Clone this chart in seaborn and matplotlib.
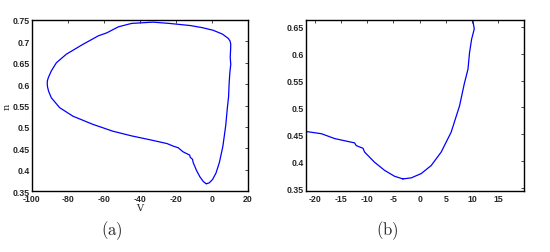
import pandas as pd
import seaborn as sns
import matplotlib
matplotlib.use("Agg")
import matplotlib.pyplot as plt

# limit cycle in the (V, n) plane
V = [-3.2, -1.6, 0.3, 2.2, 4.1, 6.0, 7.6, 8.5, 9.2, 9.5, 9.9, 10.4, 10.1, 10.3,
     10.4, 10.0, 9.0, 5.8, 0.6, -5.3, -12.0, -23.7, -32.8, -44.7, -52.0,
     -58.4, -63.1, -71.7, -80.9, -86.4, -89.2, -90.8, -91.4, -91.5, -91.3,
     -90.7, -89.2, -84.6, -77.2, -66.2, -55.1, -44.7, -34.6, -25.0, -21.5,
     -18.7, -16.2, -14.3, -12.4, -12.1, -10.8, -10.5, -8.6, -6.7, -4.8, -3.2]
n = [0.367, 0.369, 0.377, 0.392, 0.417, 0.454, 0.503, 0.544, 0.571, 0.602,
     0.627, 0.646, 0.663, 0.680, 0.693, 0.701, 0.707, 0.717, 0.726, 0.732,
     0.737, 0.742, 0.745, 0.742, 0.734, 0.720, 0.713, 0.693, 0.670, 0.650,
     0.631, 0.616, 0.608, 0.601, 0.593, 0.583, 0.568, 0.545, 0.525, 0.506,
     0.490, 0.479, 0.470, 0.461, 0.455, 0.451, 0.442, 0.438, 0.434, 0.429,
     0.424, 0.417, 0.398, 0.383, 0.372, 0.367]

xticks_a = [-100, -80, -60, -40, -20, 0, 20]
yticks_a = [0.35, 0.4, 0.45, 0.5, 0.55, 0.6, 0.65, 0.7, 0.75]
xticks_b = [-20, -15, -10, -5, 0, 5, 10, 15]
yticks_b = [0.35, 0.4, 0.45, 0.5, 0.55, 0.6, 0.65]

df = pd.DataFrame({"V": V, "n": n})

sns.set_style("white")
plt.rcParams["mathtext.fontset"] = "cm"

fig = plt.figure(figsize=(5.5, 2.53), dpi=100)
ax1 = fig.add_axes([0.058, 0.241, 0.393, 0.676])
ax2 = fig.add_axes([0.556, 0.241, 0.396, 0.676])

for ax in (ax1, ax2):
    sns.lineplot(data=df, x="V", y="n", sort=False, estimator=None,
                 color="#0000ff", lw=0.9, ax=ax)
    ax.tick_params(direction="in", top=True, right=True, length=2.5,
                   width=0.6, pad=1.5)
    ax.tick_params(axis="x", pad=2.5)
    for s in ax.spines.values():
        s.set_linewidth(1.0)
        s.set_color("black")
    ax.set_xlabel("")
    ax.set_ylabel("")


def label_ticks(ax, xt, yt):
    ax.set_xticks(xt)
    ax.set_xticklabels([f"{v:g}" for v in xt], fontsize=6.3, fontweight="bold",
                       family="Liberation Sans")
    ax.set_yticks(yt)
    ax.set_yticklabels([f"{v:g}" for v in yt], fontsize=6.3, fontweight="bold",
                       family="Liberation Sans")


ax1.set_xlim(-100, 20)
ax1.set_ylim(0.35, 0.75)
label_ticks(ax1, xticks_a, yticks_a)
ax1.set_xlabel("V", family="DejaVu Serif", fontsize=7, labelpad=0)
ax1.set_ylabel("n", family="DejaVu Serif", fontsize=7, labelpad=1)

ax2.set_xlim(-21.7, 19.8)
ax2.set_ylim(0.3445, 0.6625)
label_ticks(ax2, xticks_b, yticks_b)

fig.text(0.204, 0.09, r"$\mathrm{(a)}$", ha="center", va="center", fontsize=12)
fig.text(0.704, 0.09, r"$\mathrm{(b)}$", ha="center", va="center", fontsize=12)

fig.savefig("out.png", dpi=100)
